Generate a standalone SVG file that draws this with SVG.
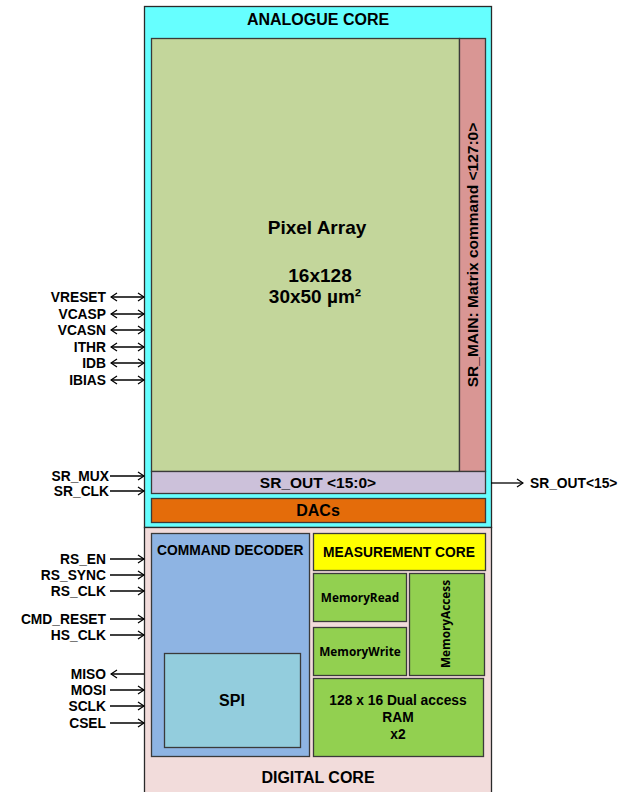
<svg xmlns="http://www.w3.org/2000/svg" width="621" height="792" viewBox="0 0 621 792">
<defs>
<marker id="ah" markerWidth="8" markerHeight="10" refX="7" refY="5" orient="auto-start-reverse" markerUnits="userSpaceOnUse">
<polyline points="1,1 7,5 1,9" fill="none" stroke="#000" stroke-width="1.3"/>
</marker>
<style>
.blk{stroke:#3a3a3a;stroke-width:1.3}
.lbl{font-family:"Liberation Sans",Arial,sans-serif;font-weight:bold;fill:#000}
.pin{font-family:"Liberation Sans",Arial,sans-serif;font-weight:bold;font-size:13.8px;fill:#000;text-anchor:end}
.cal{font-family:"Open Sans","Liberation Sans",sans-serif;font-weight:bold;font-size:11.8px;fill:#000;text-anchor:middle}
.c{text-anchor:middle}
.w{stroke:#000;stroke-width:1.3;fill:none}
</style>
</defs>
<rect width="621" height="792" fill="#fff"/>
<g id="analogue-core">
<rect x="144.5" y="6.5" width="347" height="521" fill="#66ffff" stroke="#2a2a2a" stroke-width="1.3"/>
<text class="lbl c" x="318" y="25" style="font-size:16px">ANALOGUE CORE</text>
</g>
<g id="digital-core">
<rect x="144.5" y="527.5" width="347" height="266" fill="#f2dcdb" stroke="#2a2a2a" stroke-width="1.3"/>
<text class="lbl c" x="318" y="783" style="font-size:16px">DIGITAL CORE</text>
</g>
<g id="pixel-array">
<rect class="blk" x="151.5" y="38.5" width="308" height="433" fill="#c3d69b"/>
<text class="lbl c" x="317" y="234" style="font-size:19px">Pixel Array</text>
<text class="lbl c" x="320" y="282" style="font-size:19px">16x128</text>
<text class="lbl c" x="315" y="303" style="font-size:19px">30x50 µm²</text>
</g>
<g id="sr-main">
<rect class="blk" x="459.5" y="38.5" width="26" height="433" fill="#d99694"/>
<text class="lbl c" transform="translate(478,255) rotate(-90)" style="font-size:15.5px">SR_MAIN: Matrix command &lt;127:0&gt;</text>
</g>
<g id="sr-out">
<rect class="blk" x="151.5" y="471.5" width="334" height="22" fill="#ccc1da"/>
<text class="lbl c" x="318" y="488" style="font-size:15.5px">SR_OUT &lt;15:0&gt;</text>
</g>
<g id="dacs">
<rect class="blk" x="151.5" y="498.5" width="334" height="24" fill="#e46c0a"/>
<text class="lbl c" x="318" y="516" style="font-size:16px">DACs</text>
</g>
<g id="command-decoder">
<rect class="blk" x="151.5" y="533.5" width="158" height="223" fill="#8eb4e3"/>
<text class="lbl" x="157" y="555" style="font-size:13.8px">COMMAND DECODER</text>
</g>
<g id="spi">
<rect class="blk" x="164.5" y="653.5" width="136" height="94" fill="#93cddd"/>
<text class="lbl c" x="232" y="706" style="font-size:16px">SPI</text>
</g>
<g id="measurement-core">
<rect class="blk" x="313.5" y="533.5" width="172" height="37" fill="#ffff00"/>
<text class="lbl c" x="399" y="557" style="font-size:13.8px">MEASUREMENT CORE</text>
</g>
<g id="memory-read">
<rect class="blk" x="313.5" y="573.5" width="93" height="48" fill="#92d050"/>
<text class="cal" x="360" y="602">MemoryRead</text>
</g>
<g id="memory-write">
<rect class="blk" x="313.5" y="627.5" width="93" height="48" fill="#92d050"/>
<text class="cal" x="360" y="656">MemoryWrite</text>
</g>
<g id="memory-access">
<rect class="blk" x="409.5" y="573.5" width="75" height="102" fill="#92d050"/>
<text class="cal" transform="translate(450,624) rotate(-90)">MemoryAccess</text>
</g>
<g id="ram">
<rect class="blk" x="313.5" y="678.5" width="170" height="78" fill="#92d050"/>
<text class="lbl c" x="398" y="705" style="font-size:13.8px">128 x 16 Dual access</text>
<text class="lbl c" x="398" y="722" style="font-size:13.8px">RAM</text>
<text class="lbl c" x="398" y="739" style="font-size:13.8px">x2</text>
</g>
<g id="connectors">
<line class="w" x1="111" y1="297" x2="144" y2="297" marker-start="url(#ah)" marker-end="url(#ah)"/>
<line class="w" x1="111" y1="314" x2="144" y2="314" marker-start="url(#ah)" marker-end="url(#ah)"/>
<line class="w" x1="111" y1="330" x2="144" y2="330" marker-start="url(#ah)" marker-end="url(#ah)"/>
<line class="w" x1="111" y1="347" x2="144" y2="347" marker-start="url(#ah)" marker-end="url(#ah)"/>
<line class="w" x1="111" y1="363" x2="144" y2="363" marker-start="url(#ah)" marker-end="url(#ah)"/>
<line class="w" x1="111" y1="380" x2="144" y2="380" marker-start="url(#ah)" marker-end="url(#ah)"/>
<line class="w" x1="110" y1="476" x2="144" y2="476" marker-end="url(#ah)"/>
<line class="w" x1="110" y1="491" x2="144" y2="491" marker-end="url(#ah)"/>
<line class="w" x1="110" y1="559" x2="144" y2="559" marker-end="url(#ah)"/>
<line class="w" x1="110" y1="575" x2="144" y2="575" marker-end="url(#ah)"/>
<line class="w" x1="110" y1="591" x2="144" y2="591" marker-end="url(#ah)"/>
<line class="w" x1="110" y1="619" x2="144" y2="619" marker-end="url(#ah)"/>
<line class="w" x1="110" y1="635" x2="144" y2="635" marker-end="url(#ah)"/>
<line class="w" x1="111" y1="674" x2="144" y2="674" marker-start="url(#ah)"/>
<line class="w" x1="110" y1="690" x2="144" y2="690" marker-end="url(#ah)"/>
<line class="w" x1="110" y1="706" x2="144" y2="706" marker-end="url(#ah)"/>
<line class="w" x1="110" y1="723" x2="144" y2="723" marker-end="url(#ah)"/>
<line class="w" x1="491" y1="483" x2="523" y2="483" marker-end="url(#ah)"/>
</g>
<g id="pins">
<text class="pin" x="106" y="302">VRESET</text>
<text class="pin" x="106" y="319">VCASP</text>
<text class="pin" x="106" y="335">VCASN</text>
<text class="pin" x="106" y="352">ITHR</text>
<text class="pin" x="106" y="368">IDB</text>
<text class="pin" x="106" y="385">IBIAS</text>
<text class="pin" x="109" y="481">SR_MUX</text>
<text class="pin" x="109" y="496">SR_CLK</text>
<text class="pin" x="106" y="564">RS_EN</text>
<text class="pin" x="106" y="580">RS_SYNC</text>
<text class="pin" x="106" y="596">RS_CLK</text>
<text class="pin" x="106" y="624">CMD_RESET</text>
<text class="pin" x="106" y="640">HS_CLK</text>
<text class="pin" x="106" y="679">MISO</text>
<text class="pin" x="106" y="695">MOSI</text>
<text class="pin" x="106" y="711">SCLK</text>
<text class="pin" x="106" y="728">CSEL</text>
<text class="lbl" x="530" y="488" style="font-size:13.8px">SR_OUT&lt;15&gt;</text>
</g>
</svg>
